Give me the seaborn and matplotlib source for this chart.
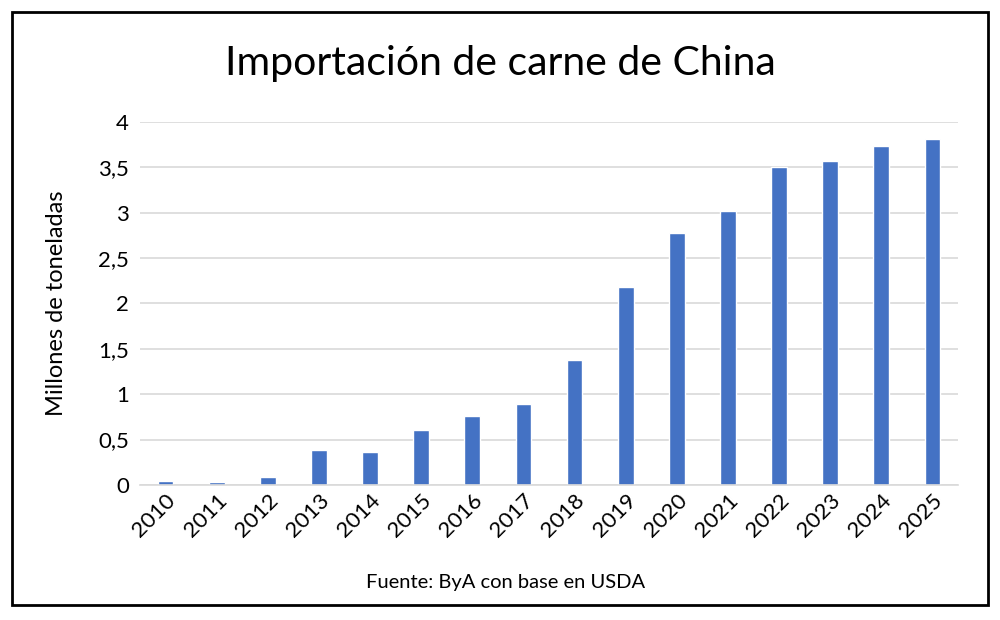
import matplotlib
matplotlib.use("Agg")
import matplotlib.pyplot as plt
import seaborn as sns
import pandas as pd
from matplotlib.patches import Rectangle

## datos
anios = [str(a) for a in range(2010, 2026)]
importaciones = [0.04, 0.03, 0.09, 0.38, 0.365, 0.61, 0.76, 0.89,
                 1.38, 2.18, 2.78, 3.02, 3.50, 3.57, 3.74, 3.81]
yticks = [0, 0.5, 1, 1.5, 2, 2.5, 3, 3.5, 4]
ytick_labels = ["0", "0,5", "1", "1,5", "2", "2,5", "3", "3,5", "4"]

sns.set_style("white")
plt.rcParams['font.family'] = ['Lato', 'DejaVu Sans']
plt.rcParams['text.color'] = "black"
plt.rcParams['axes.labelcolor'] = "black"
plt.rcParams['xtick.color'] = "black"
plt.rcParams['ytick.color'] = "black"

df = pd.DataFrame({"anio": anios, "valor": importaciones})

fig = plt.figure(figsize=(10, 6.2), dpi=100)
ax = fig.add_axes([0.14, 0.218, 0.818, 0.585])

sns.barplot(data=df, x="anio", y="valor", color="#4472C4", width=0.31,
            saturation=1, ax=ax)

ax.set_ylim(0, 4)
ax.set_xlim(-0.5, len(anios) - 0.5)
ax.set_yticks(yticks)
ax.set_yticklabels(ytick_labels, fontsize=16)
ax.tick_params(axis="both", length=0, pad=8)
ax.tick_params(axis="x", pad=4)
plt.setp(ax.get_xticklabels(), rotation=45, ha="right", rotation_mode="anchor", fontsize=16)
ax.yaxis.grid(True, color="#d9d9d9", linewidth=1.2)
ax.set_axisbelow(True)
for s in ["top", "right", "left"]:
    ax.spines[s].set_visible(False)
ax.spines["bottom"].set_color("#d9d9d9")
ax.spines["bottom"].set_linewidth(1.2)

ax.set_xlabel("")
ax.set_ylabel("Millones de toneladas", fontsize=17, labelpad=22)

fig.text(0.5, 0.898, "Importación de carne de China", ha="center", va="center", fontsize=29.5)
fig.text(0.506, 0.061, "Fuente: ByA con base en USDA", ha="center", va="center", fontsize=14.5)

## marco negro
fig.patches.append(Rectangle((0.012, 0.024), 0.976, 0.956, transform=fig.transFigure,
                             fill=False, edgecolor="black", linewidth=2))

fig.savefig("out.png", dpi=100)
